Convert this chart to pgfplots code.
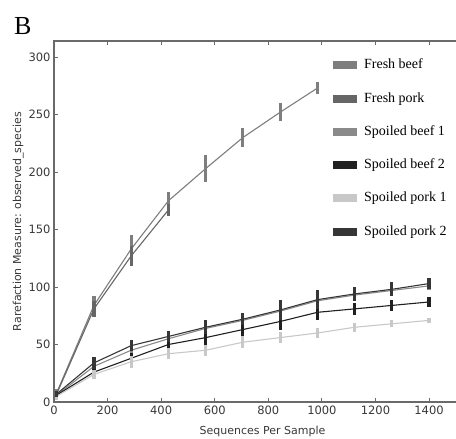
\documentclass[border=0pt]{standalone}
\usepackage{pgfplots}
\pgfplotsset{compat=1.18}
\usepackage{fontspec}
\setmainfont{Liberation Serif}
\newfontfamily\dejavu{DejaVu Sans}

\definecolor{fbeef}{HTML}{7E7E7E}
\definecolor{fpork}{HTML}{666666}
\definecolor{sbeefa}{HTML}{8A8A8A}
\definecolor{sbeefb}{HTML}{202020}
\definecolor{sporka}{HTML}{C8C8C8}
\definecolor{sporkb}{HTML}{363636}
\definecolor{spine}{HTML}{6A6A6A}

\begin{document}
\begin{tikzpicture}
\begin{axis}[
  name=ax,
  scale only axis,
  width=407.2pt, height=361pt,
  xmin=0, xmax=1520, ymin=0, ymax=314,
  xtick={0,200,...,1400}, ytick={0,50,...,300},
  tick align=inside, major tick length=4pt,
  axis line style={draw=spine, line width=1.3pt},
  tick style={draw=spine, line width=0.8pt},
  /pgf/number format/assume math mode=true,
  /pgf/number format/1000 sep={},
  ticklabel style={font=\dejavu\fontsize{11.5}{13}\selectfont, text=black!78},
  label style={font=\dejavu\fontsize{11}{13}\selectfont, text=black!78},
  xlabel={Sequences Per Sample},
  ylabel={Rarefaction Measure: observed\_species},
  xlabel style={at={(axis description cs:0.5,0)}, anchor=center, yshift=-29pt, xshift=5pt},
  ylabel style={at={(axis description cs:-0.088,0.5)}, anchor=center},
  legend cell align=left,
  legend style={at={(axis description cs:0.685,0.957)}, anchor=north west,
    draw=none, fill=none, inner sep=0pt, row sep=16.3pt,
    font=\fontsize{14}{16}\selectfont,
    nodes={text height=10pt, text depth=3pt, inner xsep=7pt}},
  legend image code/.code={\fill[#1, draw=none] (0pt,-4pt) rectangle (24pt,4pt);},
  every axis plot/.append style={mark=none, line width=1.1pt},
  error bars/y dir=both, error bars/y explicit,
  error bars/error mark=none,
  error bars/error bar style={line width=3.2pt},
]
\addplot[color=fbeef] coordinates {
  (10,8) +- (0,3) (149,84) +- (0,8) (288,133) +- (0,12) (427,175) +- (0,8)
  (566,203) +- (0,12) (705,230) +- (0,8) (844,252) +- (0,8) (983,273) +- (0,5)};
\addplot[color=fpork] coordinates {
  (10,7) +- (0,3) (149,81) +- (0,7) (288,127) +- (0,9) (427,167) +- (0,5)};
\addplot[color=sbeefa] coordinates {
  (10,6) +- (0,3) (149,31) +- (0,5) (288,45) +- (0,5) (427,55) +- (0,5)
  (566,64) +- (0,5) (705,71) +- (0,5) (844,79) +- (0,6) (983,88) +- (0,5)
  (1122,93) +- (0,4) (1261,97) +- (0,4) (1400,101) +- (0,4)};
\addplot[color=sbeefb] coordinates {
  (10,6) +- (0,3) (149,26) +- (0,4) (288,38) +- (0,5) (427,50) +- (0,5)
  (566,56) +- (0,6) (705,63) +- (0,6) (844,70) +- (0,7) (983,78) +- (0,7)
  (1122,81) +- (0,5) (1261,84) +- (0,5) (1400,87) +- (0,4)};
\addplot[color=sporka] coordinates {
  (10,5) +- (0,3) (149,24) +- (0,4) (288,35) +- (0,5) (427,42) +- (0,5)
  (566,45) +- (0,5) (705,52) +- (0,5) (844,56) +- (0,5) (983,60) +- (0,4)
  (1122,65) +- (0,4) (1261,68) +- (0,3) (1400,71) +- (0,2)};
\addplot[color=sporkb] coordinates {
  (10,7) +- (0,3) (149,34) +- (0,5) (288,49) +- (0,5) (427,57) +- (0,5)
  (566,65) +- (0,6) (705,72) +- (0,5) (844,80) +- (0,9) (983,89) +- (0,8)
  (1122,94) +- (0,6) (1261,98) +- (0,6) (1400,103) +- (0,5)};
\legend{Fresh beef, Fresh pork, Spoiled beef 1, Spoiled beef 2, Spoiled pork 1, Spoiled pork 2}
\end{axis}
\node[anchor=base west, inner sep=0pt, font=\fontsize{26}{26}\selectfont]
  at ([xshift=-40pt, yshift=6pt]ax.north west) {B};
\pgfresetboundingbox
\useasboundingbox ([xshift=-54pt, yshift=-37pt]ax.south west)
  rectangle ([xshift=402pt, yshift=41pt]ax.north west);
\end{tikzpicture}
\end{document}
